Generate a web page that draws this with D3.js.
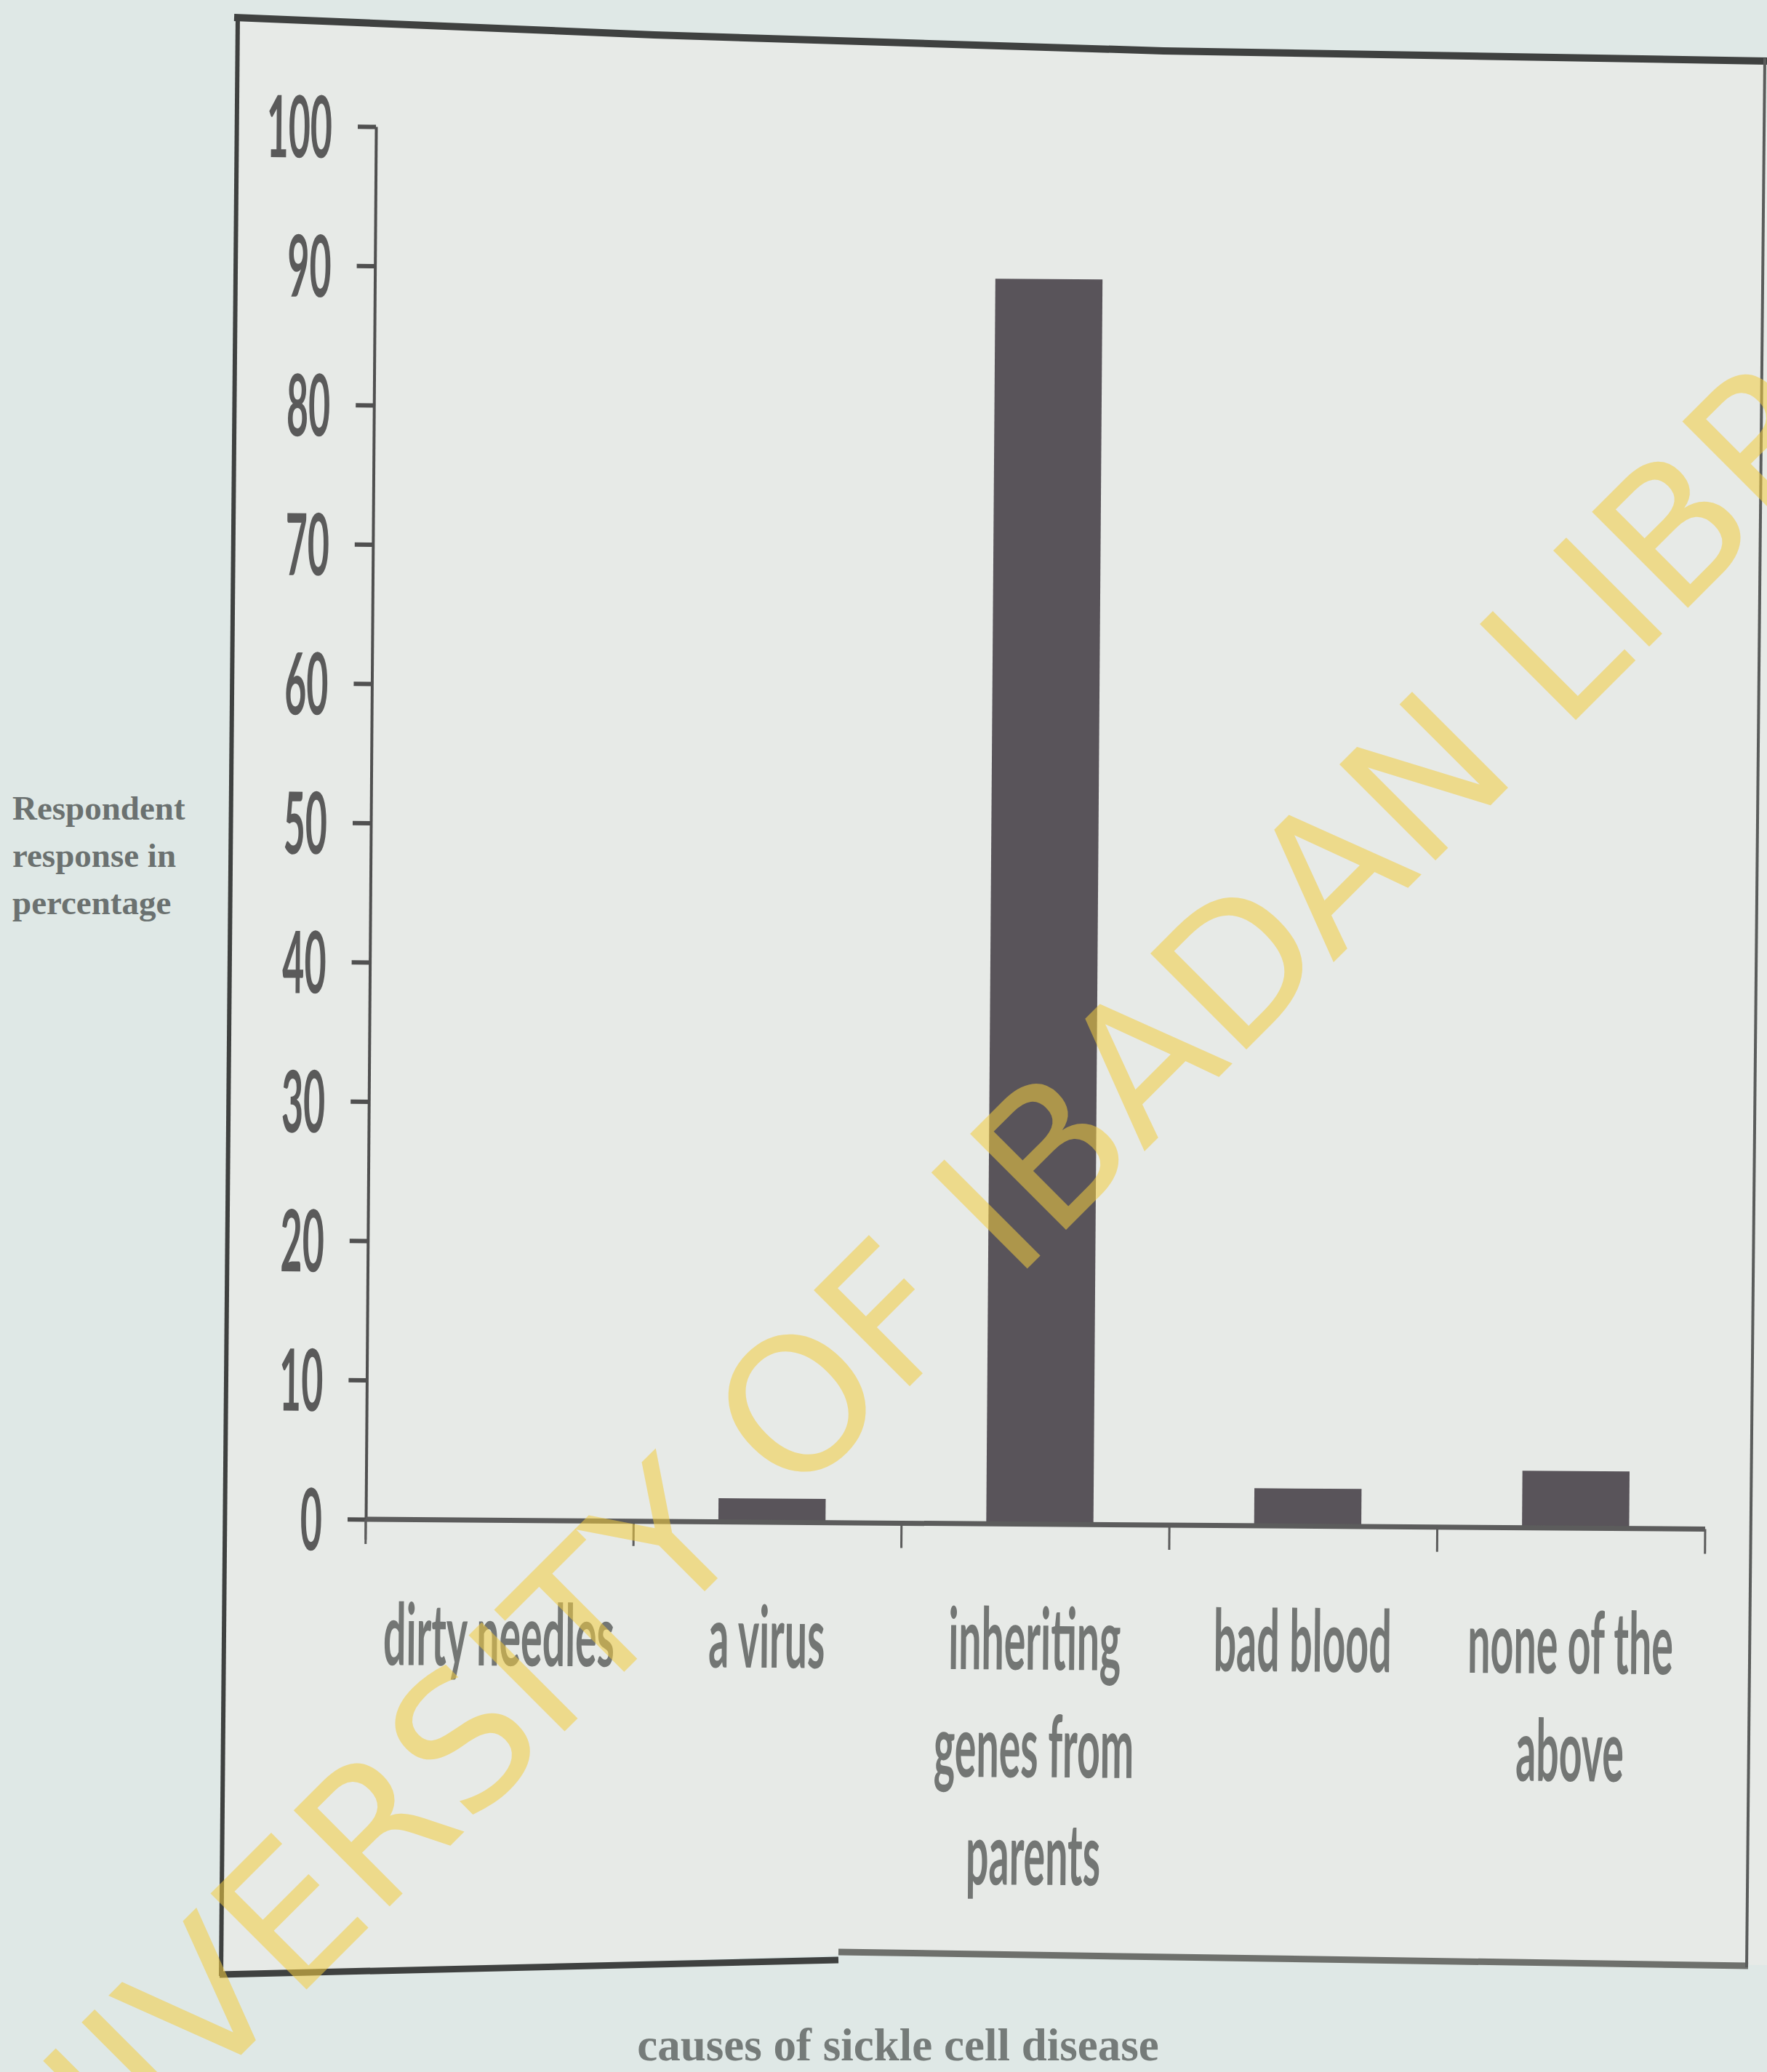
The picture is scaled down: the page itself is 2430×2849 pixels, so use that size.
<!DOCTYPE html>
<html>
<head>
<meta charset="utf-8">
<script src="https://cdn.jsdelivr.net/npm/d3@7"></script>
<style>
  body { margin: 0; background: #dfe8e6; }
  svg { display: block; }
</style>
</head>
<body>
<svg></svg>
<script>
const width = 2430;
const height = 2849;

// data
const categories = ['dirty needles', 'a virus', 'inheriting genes from parents', 'bad blood', 'none of the above'];
const labelLines = [['dirty needles'], ['a virus'], ['inheriting', 'genes from', 'parents'], ['bad blood'], ['none of the', 'above']];
const values = [0, 1.7, 89.4, 2.7, 4.1];
const yTicks = [0, 10, 20, 30, 40, 50, 60, 70, 80, 90, 100];
const yTitle = ['Respondent', 'response in', 'percentage'];
const xTitle = 'causes of sickle cell disease';
const watermark = 'UNIVERSITY OF IBADAN LIBRARY';

const svg = d3.select('svg')
  .attr('width', width)
  .attr('height', height);

// paper + photographed frame
svg.append('rect')
  .attr('width', width).attr('height', height)
  .attr('fill', '#dfe8e6');

svg.append('path')
  .attr('d', 'M327,24 L900,46 L1600,70 L2430,84 L2430,2702 L1153,2688 L304,2715 Z')
  .attr('fill', '#e7eae7');

const frame = svg.append('g')
  .attr('fill', 'none')
  .attr('stroke', '#3f4140');
frame.append('path').attr('d', 'M322,24 L900,48 L1600,70 L2430,84').attr('stroke-width', 10);
frame.append('path').attr('d', 'M327,22 L304,2717').attr('stroke-width', 6);
frame.append('path').attr('d', 'M302,2715 L1153,2695').attr('stroke-width', 9);
frame.append('path').attr('d', 'M1153,2684 L2404,2703').attr('stroke', '#6e706c').attr('stroke-width', 9);
frame.append('path').attr('d', 'M2427,80 L2402,2705').attr('stroke', '#5a5c5b').attr('stroke-width', 4);

// chart area
const x0 = 503, x1 = 2345, yBase = 2089, yTop = 174;

const x = d3.scaleBand()
  .domain(categories)
  .range([x0, x1])
  .paddingInner(0.6)
  .paddingOuter(0.3);

const y = d3.scaleLinear()
  .domain([0, 100])
  .range([yBase, yTop]);

const chart = svg.append('g')
  .attr('transform', `rotate(0.42, ${x0}, ${yBase})`);

const condensed = 0.44;

// bars
chart.append('g')
  .selectAll('rect')
  .data(values)
  .enter()
  .append('rect')
  .attr('x', (d, i) => x(categories[i]) + 6)
  .attr('y', d => y(d))
  .attr('width', x.bandwidth())
  .attr('height', d => y(0) - y(d))
  .attr('fill', '#59545a');

// y axis
const yAxis = chart.append('g')
  .attr('transform', `translate(${x0},0)`)
  .call(d3.axisLeft(y).tickValues(yTicks).tickSize(25).tickSizeOuter(0).tickPadding(35));

yAxis.select('.domain')
  .attr('stroke', '#505050')
  .attr('stroke-width', 4);
yAxis.selectAll('.tick line')
  .attr('stroke', '#505050')
  .attr('stroke-width', 6);
yAxis.selectAll('.tick text')
  .attr('x', -60 / condensed)
  .attr('transform', `scale(${condensed},1)`)
  .attr('font-family', 'Lato, "Open Sans", sans-serif')
  .attr('font-weight', 700)
  .attr('font-size', 118)
  .attr('dy', '0.36em')
  .attr('fill', '#5a5a5a');

chart.append('line')
  .attr('x1', x0).attr('x2', x0)
  .attr('y1', y(0)).attr('y2', y(0) + 28)
  .attr('stroke', '#606060')
  .attr('stroke-width', 3);

// x axis baseline and boundary ticks
chart.append('line')
  .attr('x1', x0).attr('x2', x1)
  .attr('y1', y(0)).attr('y2', y(0))
  .attr('stroke', '#5c5c5c')
  .attr('stroke-width', 7);

const step = (x1 - x0) / categories.length;
const bounds = d3.range(categories.length + 1).map(i => x0 + i * step);
chart.append('g')
  .selectAll('line')
  .data(bounds)
  .enter()
  .append('line')
  .attr('x1', d => d).attr('x2', d => d)
  .attr('y1', y(0)).attr('y2', y(0) + 34)
  .attr('stroke', '#5c5c5c')
  .attr('stroke-width', 3);

// category labels
const labels = chart.append('g')
  .selectAll('g')
  .data(labelLines)
  .enter()
  .append('g')
  .attr('transform', (d, i) => `translate(${x(categories[i]) + x.bandwidth() / 2},${y(0) + 200}) scale(0.47,1)`);

labels.selectAll('text')
  .data(d => d)
  .enter()
  .append('text')
  .attr('y', (d, i) => i * 148)
  .attr('text-anchor', 'middle')
  .attr('font-family', 'Lato, "Open Sans", sans-serif')
  .attr('font-weight', 700)
  .attr('font-size', 118)
  .attr('fill', '#737674')
  .text(d => d);

// axis titles
svg.append('g')
  .selectAll('text')
  .data(yTitle)
  .enter()
  .append('text')
  .attr('x', 17)
  .attr('y', (d, i) => 1127 + i * 65)
  .attr('font-family', '"Liberation Serif", "DejaVu Serif", serif')
  .attr('font-weight', 700)
  .attr('font-size', 47)
  .attr('fill', '#6b7170')
  .text(d => d);

svg.append('text')
  .attr('x', 1235)
  .attr('y', 2833)
  .attr('text-anchor', 'middle')
  .attr('font-family', '"Liberation Serif", "DejaVu Serif", serif')
  .attr('font-weight', 700)
  .attr('font-size', 63)
  .attr('fill', '#757b79')
  .text(xTitle);

// library watermark, stamped over everything
const wm = svg.append('text')
  .attr('font-family', '"DejaVu Sans", sans-serif')
  .attr('font-size', 256)
  .attr('fill', 'rgb(243,204,63)')
  .attr('fill-opacity', 0.55)
  .text(watermark);

const lPos = wm.node().getStartPositionOfChar(watermark.indexOf('LIB'));
const a = lPos.x + 25;
const c = Math.SQRT1_2;
wm.attr('transform', `translate(${2167 - a * c},${990 + a * c}) rotate(-45)`);
</script>
</body>
</html>
